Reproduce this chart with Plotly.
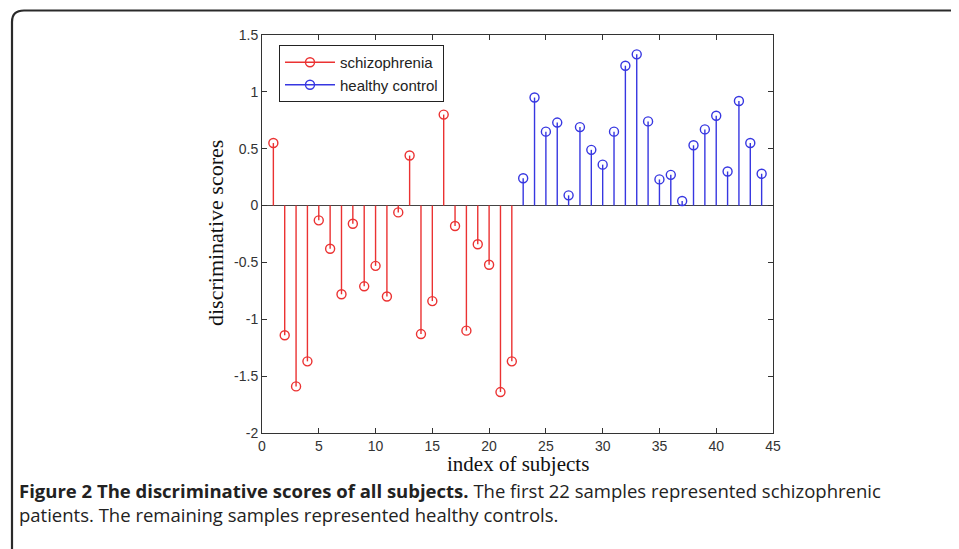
import plotly.graph_objects as go

# ---- data ----
schizo_index = list(range(1, 23))
schizo_scores = [0.55, -1.14, -1.59, -1.37, -0.13, -0.38, -0.78, -0.16, -0.71, -0.53,
                 -0.80, -0.06, 0.44, -1.13, -0.84, 0.80, -0.18, -1.10, -0.34, -0.52,
                 -1.64, -1.37]
control_index = list(range(23, 45))
control_scores = [0.24, 0.95, 0.65, 0.73, 0.09, 0.69, 0.49, 0.36, 0.65, 1.23,
                  1.33, 0.74, 0.23, 0.27, 0.04, 0.53, 0.67, 0.79, 0.30, 0.92,
                  0.55, 0.28]
series_names = ["schizophrenia", "healthy control"]
x_ticks = [0, 5, 10, 15, 20, 25, 30, 35, 40, 45]
y_ticks = [-2, -1.5, -1, -0.5, 0, 0.5, 1, 1.5]
y_tick_text = ["-2", "-1.5", "-1", "-0.5", "0", "0.5", "1", "1.5"]

RED = "rgb(235,50,50)"
BLUE = "rgb(55,55,225)"

OFF = 8  # page body margin
W, H = 959 - OFF, 549 - OFF
L, R, T, B = 262, 773, 35, 433  # plot area in page pixels


def px(xp):
    return (xp - L) / (R - L)


def py(yp):
    return (B - yp) / (B - T)


def stems(xs, ys):
    sx, sy = [], []
    for xv, yv in zip(xs, ys):
        sx += [xv, xv, None]
        sy += [0, yv, None]
    return sx, sy


fig = go.Figure()
for xs, ys, col, name in [(schizo_index, schizo_scores, RED, series_names[0]),
                          (control_index, control_scores, BLUE, series_names[1])]:
    sx, sy = stems(xs, ys)
    fig.add_trace(go.Scatter(x=sx, y=sy, mode="lines", line=dict(color=col, width=1.4),
                             showlegend=False, hoverinfo="skip"))
    fig.add_trace(go.Scatter(x=xs, y=ys, mode="markers",
                             marker=dict(symbol="circle-open", size=9, color=col,
                                         line=dict(color=col, width=1.4)),
                             showlegend=False, name=name))
    fig.add_trace(go.Scatter(x=[None], y=[None], mode="lines+markers", name=name,
                             line=dict(color=col, width=1.4),
                             marker=dict(symbol="circle-open", size=9, color=col,
                                         line=dict(color=col, width=1.4))))

axis_common = dict(showgrid=False, showline=True, linecolor="#333", linewidth=1,
                   ticks="inside", ticklen=5, tickcolor="#333", mirror="ticks",
                   tickfont=dict(family="Liberation Sans, Arial", size=14, color="#333"))

fig.update_xaxes(range=[0, 45], tickvals=x_ticks, zeroline=False, **axis_common)
fig.update_yaxes(range=[-2, 1.5], tickvals=y_ticks, ticktext=y_tick_text,
                 zeroline=True, zerolinecolor="#444", zerolinewidth=1, **axis_common)

shapes = []
# outer rounded border (clipped at right and bottom)
path = (f"M {px(12)},{py(600)} L {px(12)},{py(22)} "
        f"Q {px(12)},{py(10.5)} {px(24)},{py(10.5)} L {px(1000)},{py(10.5)}")
shapes.append(dict(type="path", xref="paper", yref="paper", path=path,
                   line=dict(color="#2a2a2a", width=2.2), layer="above"))

annotations = [
    dict(text="index of subjects", xref="paper", yref="paper", x=px(518), y=py(464),
         xanchor="center", yanchor="middle", showarrow=False, borderpad=0,
         font=dict(family="Liberation Serif, Times New Roman", size=21, color="#111")),
    dict(text="discriminative scores", xref="paper", yref="paper", x=px(215), y=py(233),
         xanchor="center", yanchor="middle", showarrow=False, textangle=-90,
         font=dict(family="Liberation Serif, Times New Roman", size=22, color="#111")),
    dict(text="<b>Figure 2 The discriminative scores of all subjects.</b> The first 22 samples represented schizophrenic",
         xref="paper", yref="paper", x=px(18), y=py(490), xanchor="left", yanchor="middle",
         showarrow=False, borderpad=0, font=dict(family="Open Sans", size=18.5, color="#222")),
    dict(text="patients. The remaining samples represented healthy controls.",
         xref="paper", yref="paper", x=px(18), y=py(514), xanchor="left", yanchor="middle",
         showarrow=False, borderpad=0, font=dict(family="Open Sans", size=18.5, color="#222")),
]

fig.update_layout(
    width=W, height=H,
    margin=dict(l=L - OFF, r=W - (R - OFF), t=T - OFF, b=H - (B - OFF), pad=0),
    paper_bgcolor="white", plot_bgcolor="white",
    showlegend=True,
    legend=dict(x=px(279), y=py(45), xanchor="left", yanchor="top",
                bgcolor="white", bordercolor="#222", borderwidth=1,
                font=dict(family="Liberation Sans, Arial", size=15, color="#222"),
                itemwidth=50, tracegroupgap=0),
    shapes=shapes, annotations=annotations,
)

fig.write_html("out.html")
